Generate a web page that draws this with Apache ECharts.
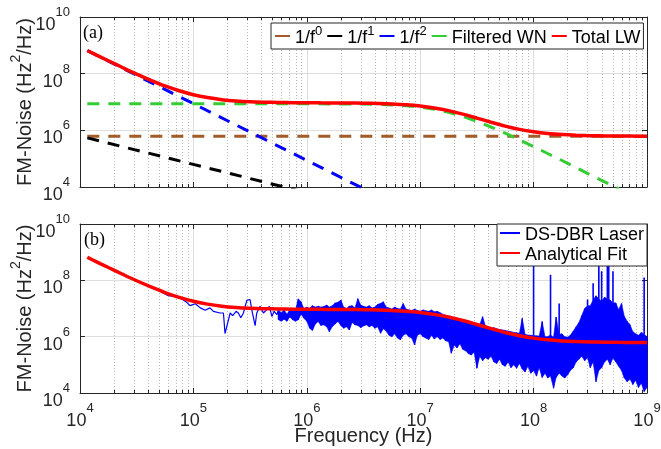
<!DOCTYPE html>
<html>
<head>
<meta charset="utf-8">
<script src="https://cdn.jsdelivr.net/npm/echarts@6.0.0/dist/echarts.min.js"></script>
<style>html,body{margin:0;padding:0;background:#fff;}#chart{width:661px;height:449px;}</style>
</head>
<body>
<div id="chart"></div>
<script>
// ---------- data ----------
const xTicks = [1e4, 1e5, 1e6, 1e7, 1e8, 1e9];
const yTicks = [1e4, 1e6, 1e8, 1e10];

// Total linewidth / analytical fit curve
const fitFreq = [1.16e4,1.33e4,1.78e4,2.37e4,3.16e4,4.22e4,5.62e4,7.50e4,1.00e5,1.33e5,1.78e5,2.37e5,3.16e5,4.22e5,5.62e5,7.50e5,1.00e6,1.33e6,1.78e6,2.37e6,3.16e6,4.22e6,5.62e6,7.50e6,1.00e7,1.33e7,1.78e7,2.37e7,3.16e7,4.22e7,5.62e7,7.50e7,1.00e8,1.33e8,1.78e8,2.37e8,3.16e8,4.22e8,5.62e8,7.50e8,1.00e9];
const fitVal = [6.59e8,5.0e8,2.85e8,1.65e8,9.65e7,5.85e7,3.69e7,2.49e7,1.81e7,1.43e7,1.21e7,1.09e7,1.02e7,9.83e6,9.6e6,9.48e6,9.41e6,9.32e6,9.26e6,9.18e6,9.06e6,8.86e6,8.53e6,8.01e6,7.23e6,6.19e6,4.97e6,3.75e6,2.71e6,1.93e6,1.41e6,1.08e6,8.87e5,7.72e5,7.06e5,6.69e5,6.47e5,6.36e5,6.29e5,6.25e5,6.23e5];

// Filtered white noise
const wnFreq = [1.16e4,1e6,3.16e6,4.22e6,5.62e6,7.5e6,1e7,1.33e7,1.78e7,2.37e7,3.16e7,4.22e7,5.62e7,7.5e7,1e8,1.33e8,1.78e8,3.16e8,5.62e8];
const wnVal = [8.7e6,8.67e6,8.43e6,8.24e6,7.91e6,7.39e6,6.61e6,5.57e6,4.35e6,3.13e6,2.09e6,1.31e6,7.9e5,4.63e5,2.67e5,1.52e5,8.6e4,2.7e4,8.7e3];

// 1/f^0, 1/f^1, 1/f^2 components (straight lines on log-log axes)
const f0Freq = [1.16e4, 1e9];
const f0Val = [6.2e5, 6.2e5];
const f1Freq = [1.16e4, 1e6];
const f1Val = [5.4e5, 6.3e3];
const f2Freq = [1.16e4, 1e7];
const f2Val = [6.5e8, 8.7e2];

// DS-DBR measured spectrum: low-frequency trace
const lowFreq = [5.25e4,6.01e4,6.89e4,7.89e4,8.73e4,9.35e4,1.04e5,1.15e5,1.27e5,1.40e5,1.50e5,1.72e5,1.84e5,1.90e5,2.11e5,2.22e5,2.38e5,2.49e5,2.62e5,2.76e5,2.96e5,3.16e5,3.27e5,3.50e5,3.62e5,3.87e5,4.14e5,4.44e5,4.68e5,4.92e5,5.15e5,5.45e5];
const lowVal = [3.80e7,2.86e7,2.71e7,2.19e7,1.66e7,1.26e7,1.48e7,1.05e7,8.71e6,1.05e7,7.94e6,6.92e6,6.92e6,1.29e6,6.92e6,5.62e6,7.94e6,6.92e6,4.68e6,6.92e6,1.95e7,2.09e7,9.12e6,2.45e6,6.92e6,1.20e7,6.92e6,9.12e6,1.20e7,5.25e6,7.94e6,6.03e6];

// DS-DBR measured spectrum: dense noisy band (upper / lower excursions)
const bandFreq = [
 5.62e5,5.96e5,6.31e5,6.68e5,7.08e5,7.50e5,7.94e5,8.41e5,8.91e5,9.44e5,
 1.00e6,1.06e6,1.12e6,1.19e6,1.26e6,1.33e6,1.41e6,1.50e6,1.58e6,1.68e6,
 1.78e6,1.88e6,2.00e6,2.11e6,2.24e6,2.37e6,2.51e6,2.66e6,2.82e6,2.99e6,
 3.16e6,3.35e6,3.55e6,3.76e6,3.98e6,4.22e6,4.47e6,4.73e6,5.01e6,5.31e6,
 5.62e6,5.96e6,6.31e6,6.68e6,7.08e6,7.50e6,7.94e6,8.41e6,8.91e6,9.44e6,
 1.00e7,1.06e7,1.12e7,1.19e7,1.26e7,1.33e7,1.41e7,1.50e7,1.58e7,1.68e7,
 1.78e7,1.88e7,2.00e7,2.11e7,2.24e7,2.37e7,2.51e7,2.66e7,2.82e7,2.99e7,
 3.16e7,3.35e7,3.55e7,3.76e7,3.98e7,4.22e7,4.47e7,4.73e7,5.01e7,5.31e7,
 5.62e7,5.96e7,6.31e7,6.68e7,7.08e7,7.50e7,7.94e7,8.41e7,8.91e7,9.44e7,
 1.00e8,1.06e8,1.12e8,1.19e8,1.26e8,1.33e8,1.41e8,1.50e8,1.58e8,1.68e8,
 1.78e8,1.88e8,2.00e8,2.11e8,2.24e8,2.37e8,2.51e8,2.66e8,2.82e8,2.99e8,
 3.16e8,3.35e8,3.55e8,3.76e8,3.98e8,4.22e8,4.47e8,4.73e8,5.01e8,5.31e8,
 5.62e8,5.96e8,6.31e8,6.68e8,7.08e8,7.50e8,7.94e8,8.41e8,8.91e8,9.44e8,
 1.00e9];
const bandHi = [
 8.91e6,7.08e6,8.91e6,6.31e6,8.91e6,7.94e6,8.32e6,2.19e7,1.74e7,9.55e6,
 1.12e7,1.00e7,1.26e7,1.12e7,1.20e7,1.12e7,1.17e7,1.32e7,1.12e7,1.26e7,
 1.58e7,1.66e7,2.00e7,1.12e7,1.00e7,1.20e7,1.26e7,1.05e7,2.24e7,1.32e7,
 1.20e7,1.12e7,1.26e7,1.05e7,1.12e7,1.41e7,1.51e7,1.74e7,1.12e7,1.05e7,
 9.55e6,1.12e7,1.00e7,9.55e6,1.51e7,9.55e6,8.91e6,8.32e6,9.55e6,8.51e6,
 7.94e6,8.91e6,8.32e6,7.94e6,8.91e6,7.59e6,7.94e6,7.08e6,6.31e6,5.75e6,
 5.25e6,5.01e6,4.57e6,4.37e6,3.98e6,3.80e6,3.63e6,3.55e6,3.16e6,3.02e6,
 2.82e6,2.63e6,5.13e6,2.40e6,2.24e6,2.00e6,2.09e6,1.91e6,1.78e6,1.74e6,
 1.66e6,1.58e6,1.51e6,1.41e6,1.38e6,1.32e6,4.47e6,1.20e6,1.15e6,1.12e6,
 1.10e6,1.07e6,1.05e6,3.47e6,1.00e6,1.00e6,1.15e6,9.55e5,5.01e6,1.20e6,
 1.26e6,1.00e6,9.55e5,1.12e6,1.58e6,2.24e6,3.16e6,5.62e6,1.00e7,1.26e7,
 1.26e7,2.00e7,2.82e7,2.20e7,1.80e7,2.51e7,2.20e7,2.00e7,1.60e7,1.58e7,
 9.12e6,1.51e7,5.25e6,3.55e6,2.63e6,1.51e6,1.26e6,1.12e6,1.41e6,1.20e6,
 1.00e6];
const bandLo = [
 3.98e6,3.55e6,4.17e6,3.55e6,5.01e6,3.98e6,3.55e6,3.98e6,6.31e6,4.47e6,
 3.55e6,2.00e6,1.66e6,2.82e6,3.47e6,2.51e6,2.63e6,2.24e6,1.51e6,2.29e6,
 2.82e6,3.47e6,2.51e6,2.00e6,2.24e6,1.74e6,3.16e6,2.63e6,2.51e6,2.09e6,
 2.40e6,2.63e6,2.24e6,2.51e6,2.00e6,2.24e6,1.32e6,1.91e6,1.58e6,1.12e6,
 1.00e6,1.26e6,8.91e5,7.76e5,1.12e6,1.26e6,1.00e6,8.91e5,5.13e5,1.12e6,
 1.26e6,1.00e6,8.91e5,7.94e5,1.12e6,8.32e5,1.00e6,7.94e5,8.91e5,7.08e5,
 6.76e5,2.57e5,5.01e5,3.98e5,5.62e5,3.55e5,3.16e5,2.51e5,2.24e5,2.82e5,
 7.59e4,2.00e5,1.41e5,1.78e5,1.58e5,2.00e5,1.26e5,1.12e5,1.58e5,1.00e5,
 8.91e4,1.26e5,7.94e4,1.00e5,7.59e4,1.12e5,7.08e4,5.62e4,8.91e4,5.01e4,
 6.31e4,3.98e4,7.94e4,3.55e4,5.01e4,3.39e4,3.98e4,1.48e4,3.55e4,5.01e4,
 3.98e4,3.39e4,4.47e4,6.31e4,7.94e4,1.26e5,1.58e5,2.00e5,1.41e5,1.78e5,
 7.94e4,1.26e5,2.51e4,6.31e4,7.94e4,1.26e5,1.58e5,1.00e5,1.74e5,1.26e5,
 8.91e4,6.31e4,3.39e4,2.51e4,3.16e4,2.00e4,2.82e4,1.58e4,2.24e4,1.12e4,
 1.58e4];

// DS-DBR measured spectrum: narrow spurs (frequency, foot, peak)
const spikeFreq = [1.00e8, 1.41e8, 1.68e8, 2.99e8, 3.35e8, 3.76e8, 3.98e8, 4.47e8, 4.60e8, 5.01e8, 9.44e8];
const spikeBase = [1.10e6, 1.15e6, 1.20e6, 1.26e7, 2.00e7, 2.20e7, 1.80e7, 2.20e7, 2.00e7, 1.60e7, 1.20e6];
const spikePeak = [3.98e8, 1.58e8, 1.51e7, 2.09e7, 7.94e7, 3.98e8, 2.09e8, 3.98e8, 3.98e8, 2.09e8, 1.26e8];

// ---------- build ----------
const zip = (xs, ys) => xs.map((x, i) => [x, ys[i]]);
const blueData = zip(lowFreq, lowVal);
bandFreq.forEach((f, i) => { blueData.push([f, bandHi[i]]); blueData.push([f, bandLo[i]]); });
const spikeData = [];
spikeFreq.forEach((f, i) => { spikeData.push([f, spikeBase[i]], [f, spikePeak[i]], [f, '-']); });

const FONT = 'Liberation Sans';
const AX = '#262626';
const tickRich = {
  b: {fontFamily: FONT, fontSize: 18, color: AX, lineHeight: 28, verticalAlign: 'bottom'},
  s: {fontFamily: FONT, fontSize: 13, color: AX, lineHeight: 10, verticalAlign: 'top'}
};
const powLabel = v => '{b|10}{s|' + Math.round(Math.log10(v)) + '}';
const nameRich = {
  n: {fontFamily: FONT, fontSize: 20, color: AX, lineHeight: 26, verticalAlign: 'bottom'},
  s: {fontFamily: FONT, fontSize: 14, color: AX, lineHeight: 12, verticalAlign: 'top'}
};
const legRich = {
  n: {fontFamily: FONT, fontSize: 18, color: '#000', lineHeight: 22, verticalAlign: 'bottom'},
  s: {fontFamily: FONT, fontSize: 13, color: '#000', lineHeight: 10, verticalAlign: 'top'}
};
const legendNames = {f0: '{n|1/f}{s|0}', f1: '{n|1/f}{s|1}', f2: '{n|1/f}{s|2}'};

function makeX(grid, withLabels) {
  const common = {
    type: 'log', logBase: 10, min: xTicks[0], max: xTicks[xTicks.length - 1], gridIndex: grid,
    axisLine: {show: true, onZero: false, lineStyle: {color: AX, width: 1}},
    axisTick: {show: true, inside: true, length: 5, lineStyle: {color: AX}},
    minorTick: {show: true, splitNumber: 9, length: 3, lineStyle: {color: AX}}
  };
  return [
    Object.assign({}, common, {
      position: 'bottom',
      splitLine: {show: true, lineStyle: {color: '#dedede', width: 1}},
      minorSplitLine: {show: true, lineStyle: {color: '#b8b8b8', width: 1, type: [1, 2]}},
      axisLabel: withLabels ? {show: true, margin: 9, formatter: powLabel, rich: tickRich} : {show: false},
      name: withLabels ? '{n|Frequency (Hz)}' : '', nameLocation: 'middle', nameGap: 27,
      nameMoveOverlap: false,
      nameTextStyle: {rich: nameRich}
    }),
    Object.assign({}, common, {
      position: 'top', splitLine: {show: false}, minorSplitLine: {show: false}, axisLabel: {show: false}
    })
  ];
}
function makeY(grid) {
  const common = {
    type: 'log', logBase: 10, min: yTicks[0], max: yTicks[yTicks.length - 1], gridIndex: grid,
    axisLine: {show: true, onZero: false, lineStyle: {color: AX, width: 1}},
    axisTick: {show: true, inside: true, length: 5, customValues: yTicks, lineStyle: {color: AX}},
    minorTick: {show: false}
  };
  return [
    Object.assign({}, common, {
      position: 'left',
      splitLine: {show: true, lineStyle: {color: '#dedede', width: 1}},
      axisLabel: {show: true, margin: 10, padding: [6, 0, 0, 0], customValues: yTicks, formatter: powLabel, rich: tickRich},
      name: '{n|FM-Noise (Hz}{s|2}{n|/Hz)}', nameLocation: 'middle', nameGap: 45,
      nameMoveOverlap: false,
      nameTextStyle: {rich: nameRich}
    }),
    Object.assign({}, common, {position: 'right', splitLine: {show: false}, axisLabel: {show: false}})
  ];
}

const lineBase = {type: 'line', symbol: 'none', showSymbol: false, animation: false, clip: true};
const dash = [12, 9];

const option = {
  animation: false,
  backgroundColor: '#fff',
  grid: [
    {left: 80, top: 17, width: 567, height: 170, containLabel: false, outerBoundsMode: 'none'},
    {left: 80, top: 224, width: 567, height: 169, containLabel: false, outerBoundsMode: 'none'}
  ],
  xAxis: [].concat(makeX(0, false), makeX(1, true)),
  yAxis: [].concat(makeY(0), makeY(1)),
  legend: [
    {
      data: ['f0', 'f1', 'f2', 'Filtered WN', 'Total LW'],
      left: 271, top: 23, orient: 'horizontal',
      itemWidth: 15, itemHeight: 12, itemGap: 4,
      padding: [2, 3, 2, 3],
      backgroundColor: '#fff', borderColor: AX, borderWidth: 1, borderRadius: 0,
      lineStyle: {type: 'solid'}, itemStyle: {opacity: 0},
      formatter: n => legendNames[n] || ('{n|' + n + '}'),
      textStyle: {fontFamily: FONT, fontSize: 18, color: '#000', rich: legRich}
    },
    {
      data: ['DS-DBR Laser', 'Analytical Fit'],
      left: 497, top: 224, orient: 'vertical',
      itemWidth: 20, itemHeight: 12, itemGap: 2,
      padding: [2, 3, 2, 2],
      backgroundColor: '#fff', borderColor: AX, borderWidth: 1, borderRadius: 0,
      lineStyle: {type: 'solid'}, itemStyle: {opacity: 0},
      formatter: n => '{n|' + n + '}',
      textStyle: {fontFamily: FONT, fontSize: 18, color: '#000', rich: legRich}
    }
  ],
  graphic: [
    {type: 'text', left: 83, top: 24, style: {text: '(a)', font: '18px "Liberation Serif"', fill: '#000'}},
    {type: 'text', left: 84, top: 231, style: {text: '(b)', font: '18px "Liberation Serif"', fill: '#000'}}
  ],
  series: [
    Object.assign({}, lineBase, {name: 'f0', xAxisIndex: 0, yAxisIndex: 0, data: zip(f0Freq, f0Val),
      lineStyle: {color: '#a15c2a', width: 3, type: dash}, itemStyle: {color: '#a15c2a'}}),
    Object.assign({}, lineBase, {name: 'f1', xAxisIndex: 0, yAxisIndex: 0, data: zip(f1Freq, f1Val),
      lineStyle: {color: '#000000', width: 3, type: dash}, itemStyle: {color: '#000000'}}),
    Object.assign({}, lineBase, {name: 'f2', xAxisIndex: 0, yAxisIndex: 0, data: zip(f2Freq, f2Val),
      lineStyle: {color: '#0000ff', width: 3, type: dash}, itemStyle: {color: '#0000ff'}}),
    Object.assign({}, lineBase, {name: 'Filtered WN', xAxisIndex: 0, yAxisIndex: 0, data: zip(wnFreq, wnVal),
      lineStyle: {color: '#33cc33', width: 3, type: dash}, itemStyle: {color: '#33cc33'}}),
    Object.assign({}, lineBase, {name: 'Total LW', xAxisIndex: 0, yAxisIndex: 0, data: zip(fitFreq, fitVal),
      smooth: 0.3, lineStyle: {color: '#ff0000', width: 3.5}, itemStyle: {color: '#ff0000'}}),
    {
      type: 'custom', name: 'DS-DBR band', xAxisIndex: 2, yAxisIndex: 2, data: [0],
      silent: true, animation: false, clip: true, legendHoverLink: false,
      renderItem: (params, api) => {
        const pts = [];
        bandFreq.forEach((f, i) => pts.push(api.coord([f, bandHi[i]])));
        for (let i = bandFreq.length - 1; i >= 0; i--) pts.push(api.coord([bandFreq[i], bandLo[i]]));
        return {type: 'polygon', shape: {points: pts}, style: {fill: '#0000ff', stroke: '#0000ff', lineWidth: 0.6}};
      }
    },
    Object.assign({}, lineBase, {name: 'DS-DBR spurs', xAxisIndex: 2, yAxisIndex: 2, data: spikeData,
      connectNulls: false, lineStyle: {color: '#0000ff', width: 1.6}, itemStyle: {color: '#0000ff'}}),
    Object.assign({}, lineBase, {name: 'DS-DBR Laser', xAxisIndex: 2, yAxisIndex: 2, data: blueData,
      lineStyle: {color: '#0000ff', width: 1.2}, itemStyle: {color: '#0000ff'}}),
    Object.assign({}, lineBase, {name: 'Analytical Fit', xAxisIndex: 2, yAxisIndex: 2, data: zip(fitFreq, fitVal),
      smooth: 0.3, lineStyle: {color: '#ff0000', width: 3.5}, itemStyle: {color: '#ff0000'}})
  ]
};

const chart = echarts.init(document.getElementById('chart'), null, {renderer: 'canvas'});
chart.setOption(option);
</script>
</body>
</html>
